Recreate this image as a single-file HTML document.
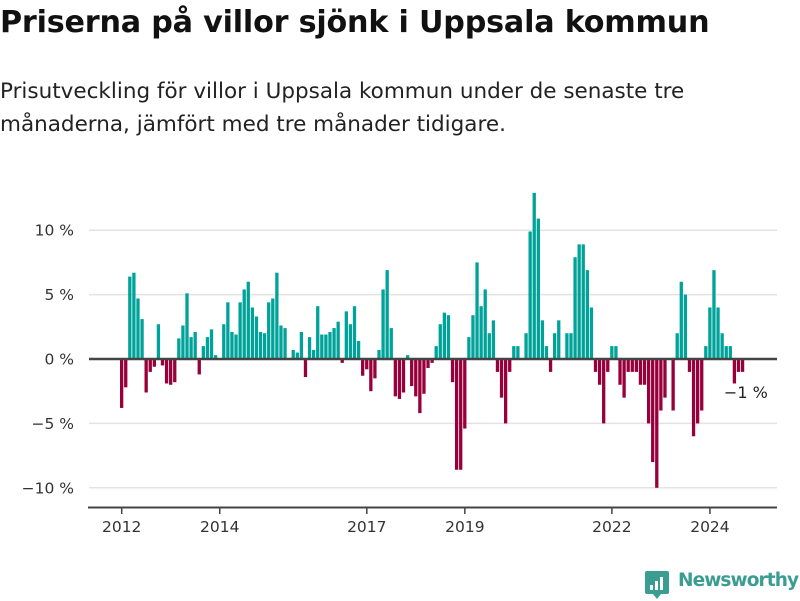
<!DOCTYPE html>
<html><head><meta charset="utf-8">
<style>
body{margin:0;width:800px;height:600px;background:#fff;font-family:"Liberation Sans","DejaVu Sans",sans-serif;overflow:hidden;position:relative}
h1{position:absolute;left:0;top:5px;margin:0;font-size:30.2px;font-weight:bold;color:#111;letter-spacing:-0.2px;font-family:"DejaVu Sans","Liberation Sans",sans-serif}
.sub{position:absolute;left:0;top:75px;margin:0;font-size:21.5px;line-height:33px;color:#222;font-family:"DejaVu Sans","Liberation Sans",sans-serif;width:740px}
svg{position:absolute;left:0;top:0}
svg text{font-family:"DejaVu Sans","Liberation Sans",sans-serif}
</style></head><body>
<h1>Priserna på villor sjönk i Uppsala kommun</h1>
<p class="sub">Prisutveckling för villor i Uppsala kommun under de senaste tre månaderna, jämfört med tre månader tidigare.</p>
<svg id="chart" width="800" height="600"></svg>
<script>
const values=[-3.8,-2.2,6.4,6.7,4.7,3.1,-2.6,-1.0,-0.6,2.7,-0.5,-1.9,-2.0,-1.8,1.6,2.6,5.1,1.7,2.1,-1.2,1.0,1.7,2.3,0.3,0,
2.7,4.4,2.1,1.9,4.4,5.4,6.0,4.0,3.3,2.1,2.0,4.4,4.7,6.7,2.6,2.4,0,0.7,0.5,2.1,-1.4,1.7,0.7,4.1,1.9,1.9,2.1,
2.4,2.9,-0.3,3.7,2.7,4.1,1.4,-1.3,-0.8,-2.5,-1.5,0.7,5.4,6.9,2.4,-2.9,-3.1,-2.6,0.3,-2.1,-2.9,-4.2,-2.7,-0.7,-0.3,1.0,2.7,
3.6,3.4,-1.8,-8.6,-8.6,-5.4,1.7,3.4,7.5,4.1,5.4,2.0,3.0,-1.0,-3.0,-5.0,-1.0,1.0,1.0,0,2.0,9.9,12.9,10.9,3.0,1.0,-1.0,
2.0,3.0,0,2.0,2.0,7.9,8.9,8.9,6.9,4.0,-1.0,-2.0,-5.0,-1.0,1.0,1.0,-2.0,-3.0,-1.0,-1.0,-1.0,-2.0,-2.0,-5.0,-8.0,-10.0,-4.0,
-3.0,0,-4.0,2.0,6.0,5.0,-1.0,-6.0,-5.0,-4.0,1.0,4.0,6.9,4.0,2.0,1.0,1.0,-1.9,-1.0,-1.0];
const startYear=2012;
const xTickYears=[2012,2014,2017,2019,2022,2024];
const yTicks=[-10,-5,0,5,10];
const yTickLabels=["−10 %","−5 %","0 %","5 %","10 %"];
const lastLabel="−1 %";

const svg=document.getElementById('chart');
const NS='http://www.w3.org/2000/svg';
const y=v=>359-v*12.88;
const x=i=>120+i*4.085;
const bw=3.3;
function mk(tag,attrs){const e=document.createElementNS(NS,tag);for(const k in attrs)e.setAttribute(k,attrs[k]);svg.appendChild(e);return e;}
yTicks.forEach((t,k)=>{
  if(t!==0){const g=mk('line',{x1:89,x2:777,y1:y(t),y2:y(t),stroke:'#e3e3e3','stroke-width':1.5});
  
  }
  const tx=mk('text',{x:74,y:y(t)+5.5,'text-anchor':'end','font-size':15.5,fill:'#333'});
  tx.textContent=yTickLabels[k];
  
  
});
values.forEach((v,i)=>{
  const r=mk('rect',{x:x(i),width:bw,y:Math.min(y(v),y(0)),height:Math.abs(y(v)-y(0)),fill:v>=0?'#00a39a':'#98003c'});
  
  
});
const zl=mk('line',{x1:89,x2:777,y1:y(0),y2:y(0),stroke:'#444','stroke-width':2.5});


const ax=mk('line',{x1:88,x2:777,y1:507.5,y2:507.5,stroke:'#444','stroke-width':2});


xTickYears.forEach(yr=>{
  const px=x((yr-startYear)*12)+1.7;
  const tk=mk('line',{x1:px,x2:px,y1:507,y2:514,stroke:'#444','stroke-width':1.5});
  
  
  const t=mk('text',{x:px,y:532,'text-anchor':'middle','font-size':15.5,fill:'#333'});
  t.textContent=yr;
  
  
});
const li=values.length-1;
const ll=mk('text',{x:x(li)-17,y:y(values[li])+26,'font-size':16,fill:'#222'});
ll.textContent=lastLabel;


</script>
<div style="position:absolute;left:645px;top:569px;width:155px;height:32px">
<svg width="24" height="30" style="position:absolute;left:0;top:2px"><path d="M2 0h20a2 2 0 0 1 2 2v19a2 2 0 0 1-2 2h-6l-4 5-4-5H2a2 2 0 0 1-2-2V2a2 2 0 0 1 2-2z" fill="#3a9d92"/><rect x="5" y="14" width="3" height="5" fill="#fff"/><rect x="10" y="10" width="3" height="9" fill="#fff"/><rect x="15" y="6" width="3" height="13" fill="#fff"/></svg>
<span style="position:absolute;left:33px;top:1px;font-size:18.5px;font-weight:bold;color:#3a9d92;font-family:'DejaVu Sans','Liberation Sans',sans-serif;letter-spacing:-0.9px">Newsworthy</span>
</div>
</body></html>
